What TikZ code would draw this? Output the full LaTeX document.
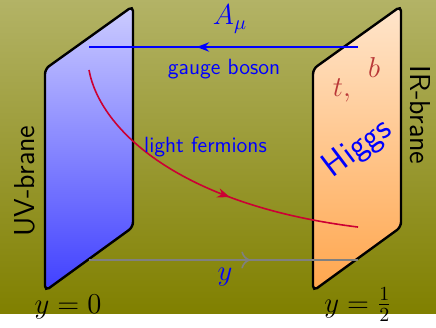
\documentclass[tikz,border=0pt]{standalone}
\usepackage{tikz}
\usetikzlibrary{decorations.markings,arrows.meta}
\definecolor{bulkolive}{RGB}{128,128,0}
\definecolor{fermired}{RGB}{204,0,51}
\definecolor{quarkred}{RGB}{185,55,55}

\begin{document}
\begin{tikzpicture}[
brane/.style={
draw=black,
very thick,
rounded corners=2.5pt
},
prop/.style={
thick,
postaction={decorate},
decoration={markings,mark=at position 0.6 with {\arrow{#1}}}
},
lab/.style={
font=\sffamily\fontsize{11}{13}\selectfont,
color=blue
},
side/.style={
font=\sffamily\Large
}
]

\useasboundingbox (0,0) rectangle (7.662,5.747);

% bulk
\fill[top color=bulkolive!60, bottom color=bulkolive]
(0,0.246) rectangle (7.662,5.747);

% the two branes
\draw[brane, top color=blue!20, bottom color=blue!75]
(2.337,5.641) -- (0.791,4.534) -- (0.791,0.633) -- (2.337,1.757) -- cycle;
\draw[brane, top color=orange!20, bottom color=orange!70]
(7.047,5.641) -- (5.501,4.534) -- (5.501,0.633) -- (7.047,1.757) -- cycle;

\coordinate (uvA) at (1.564,4.921);
\coordinate (irA) at (6.292,4.921);
\coordinate (uvF) at (1.564,4.517);
\coordinate (irF) at (6.292,1.757);
\coordinate (uvY) at (1.564,1.178);
\coordinate (irY) at (6.292,1.178);

% propagators
\draw[prop={Stealth[length=2.2mm]}, color=blue] (irA) -- (uvA);
\draw[prop={Stealth[length=2.2mm]}, color=fermired]
(uvF) .. controls (1.757,3.462) and (3.163,2.144) .. (irF);
\draw[prop={To[length=1.6mm,width=3mm]}, color=gray] (uvY) -- (irY);

\node[color=blue, font=\Large] (amu) at (4.042,5.413) {$A_\mu$};
\node[lab] (gauge) at (3.937,4.534) {gauge boson};
\node[lab] (light) at (3.611,3.163) {light fermions};
\node[color=blue, font=\Large] (ycoord) at (3.954,0.879) {$y$};

\node[font=\Large, anchor=base] (y0) at (1.195,0.246) {$y=0$};
\node[font=\Large, anchor=base] (yhalf) at (6.292,0.264) {$y=\frac{1}{2}$};

\node[side, rotate=90] (uv) at (0.439,2.566) {UV-brane};
\node[side, rotate=-90] (ir) at (7.381,3.726) {IR-brane};

\node[color=quarkred, font=\Large] (top) at (6.010,4.165) {$t,$};
\node[color=quarkred, font=\Large] (bot) at (6.573,4.569) {$b$};
\node[color=blue, font=\sffamily\LARGE, rotate=37] (higgs) at (6.292,3.130) {Higgs};

\end{tikzpicture}
\end{document}
